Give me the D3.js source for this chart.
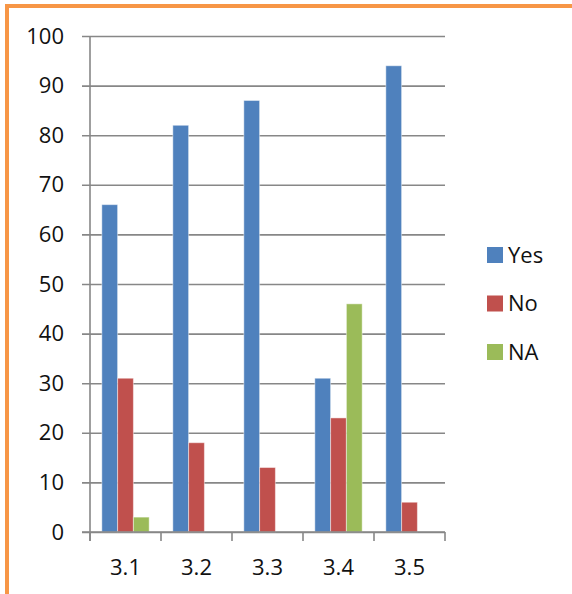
<!DOCTYPE html>
<html><head><meta charset="utf-8">
<script src="https://cdn.jsdelivr.net/npm/d3@7"></script>
<style>html,body{margin:0;padding:0;background:#fff;}svg{display:block;}</style>
</head><body>
<script>
const categories = ["3.1","3.2","3.3","3.4","3.5"];
const seriesNames = ["Yes","No","NA"];
const yesValues = [66,82,87,31,94];
const noValues = [31,18,13,23,6];
const naValues = [3,0,0,46,0];
const yTicks = [0,10,20,30,40,50,60,70,80,90,100];
const colors = ["#4F81BD","#C0504D","#9BBB59"];

(function(){
const W = 572, H = 594;
const svg = d3.select("body").append("svg").attr("width", W).attr("height", H);
const font = "'Open Sans', sans-serif";

// orange frame
svg.append("rect").attr("x",7).attr("y",6).attr("width",W+20).attr("height",H+20)
  .attr("fill","none").attr("stroke","#F79646").attr("stroke-width",4);

const pL = 90, pR = 445, pT = 36, pB = 532;
const x = d3.scaleBand().domain(categories).range([pL,pR]).paddingInner(0).paddingOuter(0);
const y = d3.scaleLinear().domain([0,100]).range([pB,pT]);
const xs = d3.scaleBand().domain(seriesNames).range([0,x.bandwidth()]).paddingInner(0).paddingOuter(0.75);

const grid = "#878787";
const yAxis = d3.axisLeft(y).tickValues(yTicks).tickSize(pR-pL+8).tickPadding(18).tickSizeOuter(0);
const gy = svg.append("g").attr("transform",`translate(${pR},0)`).call(yAxis);
gy.select(".domain").remove();
gy.selectAll(".tick line").attr("stroke",grid).attr("stroke-width",1.6);
gy.selectAll(".tick text").attr("x",-(pR-pL+26)).attr("font-family",font).attr("font-size",22).attr("fill","#111");

svg.append("line").attr("x1",pL).attr("x2",pL).attr("y1",pT).attr("y2",pB+9)
  .attr("stroke",grid).attr("stroke-width",1.6);

const edges = categories.map(c=>x(c)).concat([pR]);
svg.append("g").selectAll("line").data(edges).join("line")
  .attr("x1",d=>d).attr("x2",d=>d).attr("y1",pB).attr("y2",pB+9)
  .attr("stroke",grid).attr("stroke-width",1.6);

const data = categories.map((c,i)=>({c, vals:[yesValues[i],noValues[i],naValues[i]]}));
const groups = svg.append("g").selectAll("g").data(data).join("g")
  .attr("transform",d=>`translate(${x(d.c)},0)`);
groups.selectAll("rect").data(d=>d.vals.map((v,j)=>({v,s:seriesNames[j],j})).filter(e=>e.v>0)).join("rect")
  .attr("x",e=>xs(e.s)).attr("width",xs.bandwidth())
  .attr("y",e=>y(e.v)).attr("height",e=>y(0)-y(e.v))
  .attr("fill",e=>colors[e.j]).attr("stroke","rgba(255,255,255,0.45)").attr("stroke-width",1);

svg.append("line").attr("x1",pL-8).attr("x2",pR).attr("y1",pB).attr("y2",pB)
  .attr("stroke",grid).attr("stroke-width",1.6);

svg.append("g").selectAll("text").data(categories).join("text")
  .attr("x",c=>x(c)+x.bandwidth()/2).attr("y",567).attr("dy","0.35em")
  .attr("text-anchor","middle").attr("font-family",font).attr("font-size",22).attr("fill","#111")
  .text(c=>c);

const lg = svg.append("g").selectAll("g").data(seriesNames).join("g")
  .attr("transform",(d,i)=>`translate(487,${255+i*48.5})`);
lg.append("rect").attr("x",0).attr("y",-8).attr("width",16).attr("height",16).attr("fill",(d,i)=>colors[i]);
lg.append("text").attr("x",21).attr("y",0).attr("dy","0.35em").attr("font-family",font).attr("font-size",22).attr("fill","#111").text(d=>d);
})();
</script>
</body></html>
